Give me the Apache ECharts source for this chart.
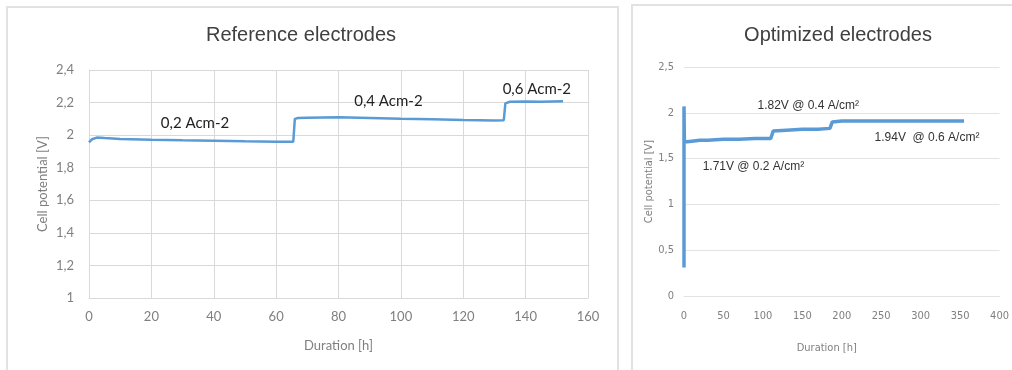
<!DOCTYPE html>
<html>
<head>
<meta charset="utf-8">
<script src="https://cdn.jsdelivr.net/npm/echarts@6/dist/echarts.min.js"></script>
<style>
html,body{margin:0;padding:0;background:#fff;}
#c{width:1012px;height:370px;}
</style>
</head>
<body>
<div id="c"></div>
<script>
// ---- Data ----
const titles = ['Reference electrodes', 'Optimized electrodes'];
const refHours = [0, 1, 2.5, 5, 10, 20, 30, 40, 50, 60, 65.5, 66, 67, 70, 80, 90, 100, 110, 120, 130, 133, 133.5, 135, 140, 145, 152];
const refVolts = [1.955, 1.975, 1.985, 1.982, 1.977, 1.972, 1.968, 1.965, 1.962, 1.960, 1.960, 2.100, 2.105, 2.107, 2.110, 2.105, 2.100, 2.097, 2.093, 2.090, 2.092, 2.195, 2.205, 2.207, 2.205, 2.208];
const optHours = [0, 0, 0.5, 10, 20, 30, 50, 70, 90, 110, 112, 113, 130, 150, 170, 185, 187, 188, 200, 250, 300, 355];
const optVolts = [0.31, 2.07, 1.68, 1.69, 1.70, 1.70, 1.71, 1.71, 1.72, 1.72, 1.72, 1.80, 1.81, 1.82, 1.82, 1.83, 1.83, 1.90, 1.91, 1.91, 1.91, 1.91];
const refNotes = ['0,2 Acm-2', '0,4 Acm-2', '0,6 Acm-2'];
const refNoteHours = [34, 96, 143.6];
const refNoteVolts = [2.075, 2.21, 2.284];
const optNotes = ['1.71V @ 0.2 A/cm²', '1.82V @ 0.4 A/cm²', '1.94V  @ 0.6 A/cm²'];
const optNoteHours = [88, 157.5, 308];
const optNoteVolts = [1.416, 2.08, 1.733];
const axisNames = { y: 'Cell potential [V]', x: 'Duration [h]' };

const zip = (a, b) => a.map((v, i) => [v, b[i]]);
const comma = v => String(v).replace('.', ',');

const chart = echarts.init(document.getElementById('c'), null, { renderer: 'canvas' });
const blue = '#5b9bd5';
const grey = '#7f7f7f';
const gridCol = '#d9d9d9';
const narrow = "'Liberation Sans Narrow', 'DejaVu Sans Condensed', sans-serif";

function notePoints(names, xs, ys, style) {
  return {
    symbol: 'circle', symbolSize: 0, silent: true,
    label: Object.assign({ show: true, position: 'inside', formatter: p => p.name }, style),
    data: names.map((n, i) => ({ name: n, coord: [xs[i], ys[i]] }))
  };
}

chart.setOption({
  animation: false,
  backgroundColor: '#fff',
  graphic: [
    { type: 'rect', shape: { x: 7, y: 7, width: 611, height: 380 }, style: { fill: 'none', stroke: '#e2e2e2', lineWidth: 2 }, z: -1 },
    { type: 'rect', shape: { x: 632, y: 5, width: 400, height: 380 }, style: { fill: 'none', stroke: '#e2e2e2', lineWidth: 2 }, z: -1 }
  ],
  title: [
    { text: titles[0], left: 296, top: 20, textAlign: 'center',
      textStyle: { fontFamily: 'Liberation Sans', fontSize: 20, fontWeight: 'normal', color: '#404040' } },
    { text: titles[1], left: 833, top: 20, textAlign: 'center',
      textStyle: { fontFamily: 'Liberation Sans', fontSize: 20, fontWeight: 'normal', color: '#404040' } }
  ],
  grid: [
    { left: 89, right: 424, top: 70, bottom: 72, show: false },
    { left: 684, right: 9, top: 67, bottom: 74, show: false }
  ],
  xAxis: [
    { type: 'value', gridIndex: 0, min: 0, max: 160, interval: 20,
      name: axisNames.x, nameLocation: 'middle', nameGap: 41,
      nameTextStyle: { fontFamily: 'Lato', fontSize: 13, color: grey },
      axisLine: { show: true, lineStyle: { color: gridCol } }, axisTick: { show: false },
      axisLabel: { margin: 12, fontFamily: 'Lato', fontSize: 13, color: grey },
      splitLine: { show: true, lineStyle: { color: gridCol } } },
    { type: 'value', gridIndex: 1, min: 0, max: 400, interval: 50,
      name: axisNames.x, nameLocation: 'middle', nameGap: 47,
      nameTextStyle: { fontFamily: narrow, fontSize: 11, color: grey, padding: [0, 30, 0, 0] },
      axisLine: { show: true, lineStyle: { color: '#e3e3e3' } }, axisTick: { show: false },
      axisLabel: { margin: 15, fontFamily: narrow, fontSize: 11, color: grey },
      splitLine: { show: false } }
  ],
  yAxis: [
    { type: 'value', gridIndex: 0, min: 1, max: 2.4, interval: 0.2,
      name: axisNames.y, nameLocation: 'middle', nameGap: 40,
      nameTextStyle: { fontFamily: 'Lato', fontSize: 13, color: grey },
      axisLine: { show: true, lineStyle: { color: gridCol } }, axisTick: { show: false },
      axisLabel: { margin: 15, fontFamily: 'Lato', fontSize: 13, color: grey, formatter: v => comma(+v.toFixed(1)) },
      splitLine: { show: true, lineStyle: { color: gridCol } } },
    { type: 'value', gridIndex: 1, min: 0, max: 2.5, interval: 0.5,
      name: axisNames.y, nameLocation: 'middle', nameGap: 19,
      nameTextStyle: { fontFamily: narrow, fontSize: 11, color: grey },
      axisLine: { show: false }, axisTick: { show: false },
      axisLabel: { margin: 10, fontFamily: narrow, fontSize: 11, color: grey, formatter: v => comma(+v.toFixed(1)) },
      splitLine: { show: true, lineStyle: { color: '#e3e3e3' } } }
  ],
  series: [
    { type: 'line', xAxisIndex: 0, yAxisIndex: 0, data: zip(refHours, refVolts),
      showSymbol: false, lineStyle: { color: blue, width: 2.5 }, itemStyle: { color: blue },
      markPoint: notePoints(refNotes, refNoteHours, refNoteVolts,
        { fontFamily: 'Lato', fontSize: 15, fontWeight: 'normal', color: '#222' }) },
    { type: 'line', xAxisIndex: 1, yAxisIndex: 1, data: zip(optHours, optVolts),
      showSymbol: false, lineStyle: { color: blue, width: 3.5 }, itemStyle: { color: blue },
      markPoint: notePoints(optNotes, optNoteHours, optNoteVolts,
        { fontFamily: 'Liberation Sans', fontSize: 12, color: '#333' }) }
  ]
});
</script>
</body>
</html>
